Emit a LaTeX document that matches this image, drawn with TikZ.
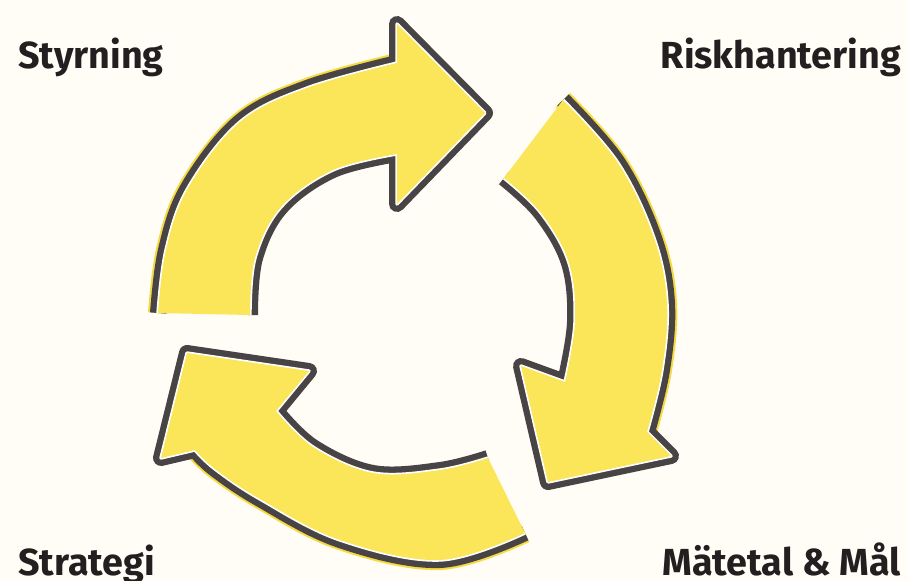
\documentclass[tikz,border=0pt]{standalone}
\usepackage{fontspec}
\setmainfont{Fira Sans}
\definecolor{bgcream}{RGB}{255,253,245}
\definecolor{yface}{RGB}{251,229,88}
\definecolor{ysliver}{RGB}{246,218,66}
\definecolor{rimc}{RGB}{72,68,70}
\definecolor{txt}{RGB}{35,31,32}
\newcommand\ringarrow[2]{%
  \draw[backsliver] #2;
  \draw[rim] #1;
  \draw[gapline] #1;
  \fill[facefill] #1 -- cycle;
}
\begin{document}
\begin{tikzpicture}[x=1pt,y=-1pt,line join=round,
  rim/.style={draw=rimc,line width=16pt,line cap=butt},
  gapline/.style={draw=white,line width=3.4pt,line cap=butt},
  backsliver/.style={draw=ysliver,line width=20pt,line cap=butt},
  facefill/.style={fill=yface},
  lbl/.style={font=\bfseries\fontsize{37.7}{40}\selectfont,text=txt,inner sep=0pt}]
\fill[bgcream] (0,0) rectangle (908,581);
\useasboundingbox (0,0) rectangle (908,581);

% top arrow (Styrning -> Riskhantering)
\ringarrow{plot[smooth,tension=0.6] coordinates {(250,315) (255,258) (281,207) (333,170) (397,154)}
  -- (397,204) -- (485,113) -- (397,24) -- (397,63)
  -- plot[smooth,tension=0.6] coordinates {(397,63) (307,88) (240,122) (188,188) (166,250) (158,313)}}
 {plot[smooth,tension=0.6] coordinates {(397,63) (307,88) (240,122) (188,188) (166,250) (158,313)}}

% right arrow (Riskhantering -> Matetal)
\ringarrow{plot[smooth,tension=0.6] coordinates {(504,178) (541,213) (569,263) (575,322) (565,382)}
  -- (521,366) -- (548,482) -- (671,456) -- (647,432)
  -- plot[smooth,tension=0.6] coordinates {(647,432) (662,370) (667,303) (654,238) (618,163) (563,100)}}
 {plot[smooth,tension=0.6] coordinates {(647,432) (662,370) (667,303) (654,238) (618,163) (563,100)}}

% bottom arrow (Matetal -> Strategi)
\ringarrow{plot[smooth,tension=0.6] coordinates {(488,458) (440,470) (373,473) (313,447) (276,411)}
  -- (309,371) -- (187,353) -- (161,458) -- (195,450)
  -- plot[smooth,tension=0.6] coordinates {(195,450) (215,469) (260,499) (340,540) (440,560) (525,533)}}
 {plot[smooth,tension=0.6] coordinates {(195,450) (215,469) (260,499) (340,540) (440,560) (525,533)}}

\node[lbl,anchor=base west] (styr) at (18,68) {Styrning};
\node[lbl,anchor=base east] (risk) at (901,68) {Riskhantering};
\node[lbl,anchor=base west] (strat) at (18,575) {Strategi};
\node[lbl,anchor=base east] (mat) at (901,575) {Mätetal \& Mål};
\end{tikzpicture}
\end{document}
